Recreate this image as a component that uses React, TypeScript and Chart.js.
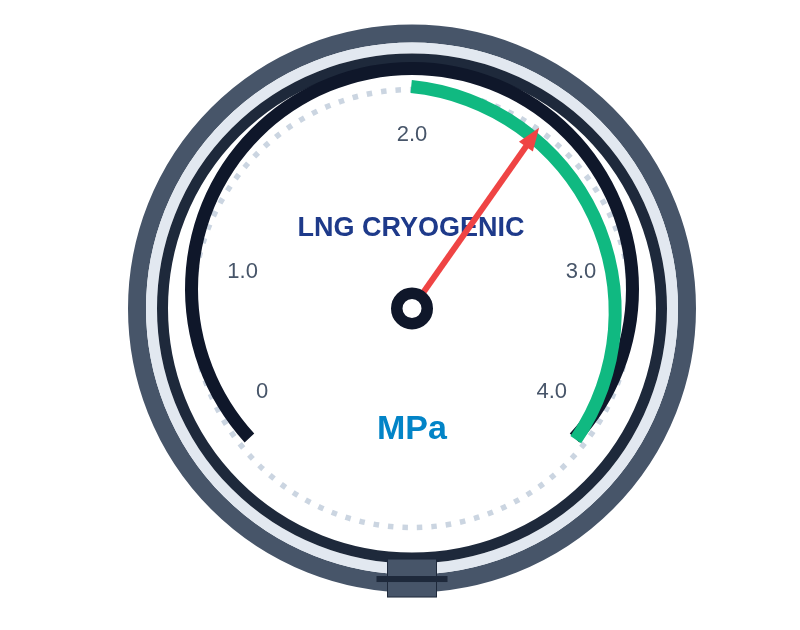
import React, { useEffect, useRef } from 'react';
import { Chart, registerables } from 'chart.js';

Chart.register(...registerables);

// ---- data ----
const SCALE_MIN = 0;
const SCALE_MAX = 4;
const TICK_VALUES = [0, 1, 2, 3, 4];
const TICK_LABELS = ['0', '1.0', '2.0', '3.0', '4.0'];
const TRACK = [4];
const BAND_SEGMENTS = [2, 2]; // 0–2 unshaded, 2–4 operating band
const BAND_LABELS = ['Below band', 'Operating band'];
const READING = [2.53];
const TITLE = 'LNG CRYOGENIC';
const UNIT = 'MPa';

// ---- styling / layout ----
const ROTATION = -132.5;
const CIRCUMFERENCE = 265;
const BAND_ROTATION = -112.9;
const BAND_CIRCUMFERENCE = 237.2;
const FONT = '"Liberation Sans", Arial, Helvetica, sans-serif';
const W = 784;
const H = 614;
// tick label placement around the pivot (angle in degrees, radius px)
const LABEL_LAYOUT = [
  { a: 151.2, r: 171 },
  { a: 192.5, r: 173.5 },
  { a: 270, r: 175 },
  { a: 347.6, r: 173 },
  { a: 30.4, r: 162 },
];

function ring(ctx: CanvasRenderingContext2D, x: number, y: number, r: number, w: number, color: string) {
  ctx.beginPath();
  ctx.arc(x, y, r, 0, Math.PI * 2);
  ctx.lineWidth = w;
  ctx.strokeStyle = color;
  ctx.stroke();
}

function valueToAngle(v: number) {
  const start = ((ROTATION - 90) * Math.PI) / 180;
  const frac = (v - SCALE_MIN) / (SCALE_MAX - SCALE_MIN);
  return start + frac * ((CIRCUMFERENCE * Math.PI) / 180);
}

const dialPlugin = {
  id: 'dialFace',
  beforeDatasetsDraw(chart: any) {
    const ctx: CanvasRenderingContext2D = chart.ctx;
    const el = chart.getDatasetMeta(0).data[0];
    const hx = el.x;
    const hy = el.y + 19.5;
    ctx.save();
    ring(ctx, hx, hy, 275, 18, '#475569');
    ring(ctx, hx, hy, 260.5, 11, '#e2e8f0');
    ring(ctx, hx, hy, 249.5, 11, '#1e293b');
    ctx.setLineDash([5.5, 9]);
    ring(ctx, hx, hy, 219, 5.5, '#cbd5e1');
    ctx.setLineDash([]);

    ctx.textAlign = 'center';
    ctx.textBaseline = 'middle';
    ctx.fillStyle = '#475569';
    ctx.font = `22px ${FONT}`;
    TICK_VALUES.forEach((v, i) => {
      const p = LABEL_LAYOUT[i];
      const a = (p.a * Math.PI) / 180;
      ctx.fillText(TICK_LABELS[i], hx + p.r * Math.cos(a), hy + p.r * Math.sin(a) + 1);
    });

    ctx.fillStyle = '#1e3a8a';
    ctx.font = `bold 27px ${FONT}`;
    ctx.fillText(TITLE, hx - 1, hy - 80);

    ctx.fillStyle = '#0284c7';
    ctx.font = `bold 34px ${FONT}`;
    ctx.fillText(UNIT, hx, hy + 121);
    ctx.restore();
  },
};

function makeNeedlePlugin(pivot: { x: number; y: number }) {
  return {
    id: 'needleHub',
    afterDatasetsDraw(chart: any) {
      const ctx: CanvasRenderingContext2D = chart.ctx;
      const hx = pivot.x;
      const hy = pivot.y;
      ctx.save();
      const ang = valueToAngle(READING[0]);
      const L = 221;
      const headL = 23;
      const headW = 8.5;
      const ux = Math.cos(ang);
      const uy = Math.sin(ang);
      const tipX = hx + L * ux;
      const tipY = hy + L * uy;
      const baseX = hx + (L - headL) * ux;
      const baseY = hy + (L - headL) * uy;
      ctx.strokeStyle = '#ef4444';
      ctx.lineWidth = 6;
      ctx.lineCap = 'butt';
      ctx.beginPath();
      ctx.moveTo(hx, hy);
      ctx.lineTo(hx + (L - headL + 2) * ux, hy + (L - headL + 2) * uy);
      ctx.stroke();
      ctx.fillStyle = '#ef4444';
      ctx.beginPath();
      ctx.moveTo(tipX, tipY);
      ctx.lineTo(baseX - headW * uy, baseY + headW * ux);
      ctx.lineTo(baseX + headW * uy, baseY - headW * ux);
      ctx.closePath();
      ctx.fill();

      ctx.beginPath();
      ctx.arc(hx, hy, 15.25, 0, Math.PI * 2);
      ctx.fillStyle = '#ffffff';
      ctx.fill();
      ctx.lineWidth = 11.5;
      ctx.strokeStyle = '#0f172a';
      ctx.stroke();

      ctx.fillStyle = '#475569';
      ctx.fillRect(hx - 24.5, hy + 250.5, 49, 38);
      ctx.lineWidth = 1;
      ctx.strokeStyle = '#1e293b';
      ctx.strokeRect(hx - 24.5, hy + 250.5, 49, 38);
      ctx.fillStyle = '#1e293b';
      ctx.fillRect(hx - 35.5, hy + 267.5, 71, 6);
      ctx.restore();
    },
  };
}

const baseOptions = {
  animation: false,
  responsive: true,
  maintainAspectRatio: false,
  events: [],
  plugins: {
    legend: { display: false },
    tooltip: { enabled: false },
    title: { display: false },
  },
};

export default function App() {
  const dialRef = useRef<HTMLCanvasElement | null>(null);
  const bandRef = useRef<HTMLCanvasElement | null>(null);
  useEffect(() => {
    if (!dialRef.current || !bandRef.current) return;
    const dial = new Chart(dialRef.current, {
      type: 'doughnut',
      data: {
        labels: ['Scale'],
        datasets: [
          {
            label: 'Track',
            data: TRACK,
            backgroundColor: ['#0f172a'],
            borderWidth: 0,
          },
        ],
      } as any,
      options: {
        ...baseOptions,
        rotation: ROTATION,
        circumference: CIRCUMFERENCE,
        radius: 227,
        cutout: '94.27%',
        layout: { padding: { left: 24, right: 0, top: 0, bottom: 125.6 } },
      } as any,
      plugins: [dialPlugin],
    });
    const el: any = dial.getDatasetMeta(0).data[0];
    const pivot = { x: el.x, y: el.y + 19.5 };
    const band = new Chart(bandRef.current, {
      type: 'doughnut',
      data: {
        labels: BAND_LABELS,
        datasets: [
          {
            label: 'Band',
            data: BAND_SEGMENTS,
            backgroundColor: ['rgba(0,0,0,0)', '#10b981'],
            borderWidth: 0,
          },
        ],
      } as any,
      options: {
        ...baseOptions,
        rotation: BAND_ROTATION,
        circumference: BAND_CIRCUMFERENCE,
        radius: 233,
        cutout: '94.42%',
        layout: { padding: { left: 0, right: 22.6, top: 0, bottom: 107.8 } },
      } as any,
      plugins: [makeNeedlePlugin(pivot)],
    });
    return () => {
      band.destroy();
      dial.destroy();
    };
  }, []);
  return (
    <div style={{ position: 'relative', width: W, height: H }}>
      <div style={{ position: 'absolute', left: 0, top: 0, width: W, height: H }}>
        <canvas ref={dialRef} />
      </div>
      <div style={{ position: 'absolute', left: 0, top: 0, width: W, height: H }}>
        <canvas ref={bandRef} />
      </div>
    </div>
  );
}
